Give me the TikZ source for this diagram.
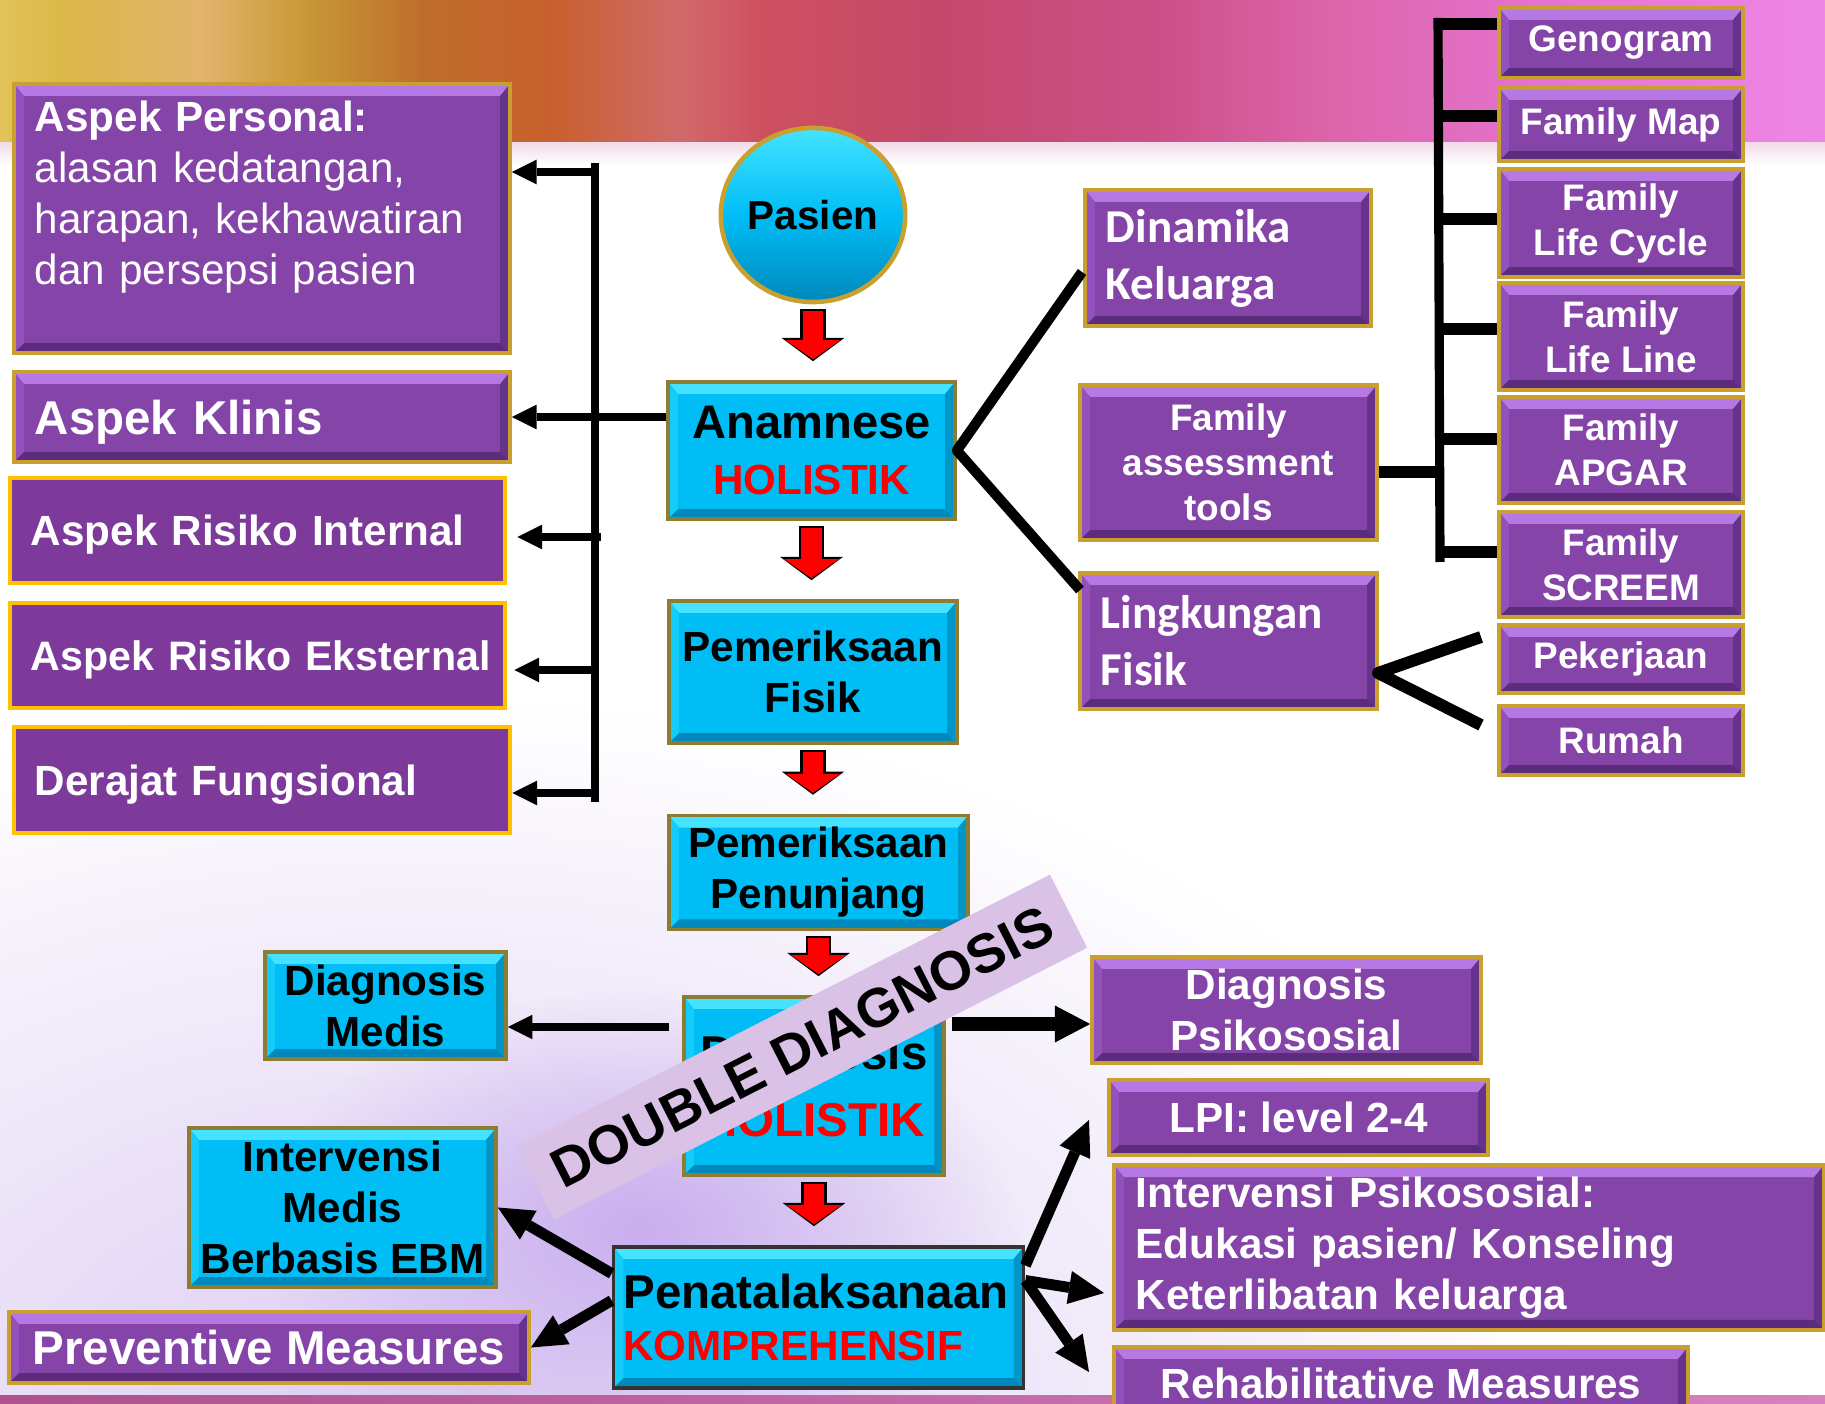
\documentclass[tikz,border=0pt]{standalone}
\usepackage{fontspec}
\setmainfont{Liberation Sans}
\newfontfamily\carlito{Carlito}
\usetikzlibrary{shapes.geometric,arrows.meta,fadings}

\definecolor{pmain}{HTML}{8444A8}
\definecolor{ptop}{HTML}{B678E2}
\definecolor{pbot}{HTML}{5B2C7C}
\definecolor{pleft}{HTML}{9351BE}
\definecolor{pright}{HTML}{66338C}
\definecolor{pgold}{HTML}{C9A030}
\definecolor{fmain}{HTML}{7D3A9A}
\definecolor{fgold}{HTML}{FFC000}
\definecolor{cmain}{HTML}{00BDF6}
\definecolor{ctop}{HTML}{45E3FF}
\definecolor{cbot}{HTML}{0088BC}
\definecolor{cleft}{HTML}{14CCFA}
\definecolor{cright}{HTML}{0096C8}
\definecolor{cgold}{HTML}{8C7C34}
\definecolor{lilac}{HTML}{D9C2E6}
\definecolor{lav}{HTML}{DDCDF3}
\definecolor{lavdeep}{HTML}{C9AEEE}
\definecolor{bgfade}{HTML}{F2DCEA}
\definecolor{bot1}{HTML}{B0508E}
\definecolor{bot2}{HTML}{D880C0}
\definecolor{bg0}{HTML}{E1C35A}
\definecolor{bg1}{HTML}{DCB848}
\definecolor{bg2}{HTML}{E2B46E}
\definecolor{bg3}{HTML}{C99A38}
\definecolor{bg4}{HTML}{BE6E2C}
\definecolor{bg5}{HTML}{C8602E}
\definecolor{bg6}{HTML}{D06A6A}
\definecolor{bg7}{HTML}{CE5060}
\definecolor{bg8}{HTML}{C4486A}
\definecolor{bg9}{HTML}{CC5088}
\definecolor{bg10}{HTML}{DC64AA}
\definecolor{bg11}{HTML}{E675D2}
\definecolor{bg12}{HTML}{EE86E6}

\tikzfading[name=glow, inner color=transparent!0, outer color=transparent!100]

\tikzset{
  bevel/.style n args={4}{path picture={
    \fill[#1] (path picture bounding box.north west) -- (path picture bounding box.north east)
      -- ([xshift=-1mm,yshift=-1.2mm]path picture bounding box.north east)
      -- ([xshift=1mm,yshift=-1.2mm]path picture bounding box.north west) -- cycle;
    \fill[#2] (path picture bounding box.south west) -- (path picture bounding box.south east)
      -- ([xshift=-1mm,yshift=1mm]path picture bounding box.south east)
      -- ([xshift=1mm,yshift=1mm]path picture bounding box.south west) -- cycle;
    \fill[#3] (path picture bounding box.north west)
      -- ([xshift=1mm,yshift=-1.2mm]path picture bounding box.north west)
      -- ([xshift=1mm,yshift=1mm]path picture bounding box.south west)
      -- (path picture bounding box.south west) -- cycle;
    \fill[#4] (path picture bounding box.north east)
      -- ([xshift=-1mm,yshift=-1.2mm]path picture bounding box.north east)
      -- ([xshift=-1mm,yshift=1mm]path picture bounding box.south east)
      -- (path picture bounding box.south east) -- cycle;
  }}
}

\begin{document}
\begin{tikzpicture}[
    x=0.01cm, y=-0.01cm,
    pbox/.style={draw=pgold, line width=1pt, fill=pmain, text=white, inner xsep=0.21cm,
      font=\fontsize{12}{14.5}\selectfont\bfseries, bevel={ptop}{pbot}{pleft}{pright}},
    fbox/.style={draw=fgold, line width=1.3pt, fill=fmain, text=white, inner xsep=0.21cm,
      font=\fontsize{12}{14.5}\selectfont\bfseries},
    cbox/.style={draw=cgold, line width=1pt, fill=cmain, text=black,
      font=\fontsize{12}{14.5}\selectfont\bfseries, bevel={ctop}{cbot}{cleft}{cright}},
    fam/.style={pbox, minimum width=2.44cm, align=center,
      font=\fontsize{10.5}{12.8}\selectfont\bfseries},
    bar/.style={line width=2pt},
    stub/.style={line width=3.4pt},
    fk/.style={line width=2.9pt, line join=round},
    larr/.style={line width=2.3pt, -{Triangle[length=7pt,width=7pt,line width=0pt]}},
    barr/.style={line width=3.7pt, -{Triangle[length=10pt,width=10.5pt,line width=0pt]}},
    parr/.style={line width=3.1pt, -{Triangle[length=10pt,width=9.5pt,line width=0pt]}},
    redarr/.style={draw=red, line width=5.9pt, shorten <=0.07cm, shorten >=0.21cm,
      -{Triangle[length=5.4pt,width=15.6pt,line width=0pt]},
      preaction={draw=black, line width=7.2pt, shorten <=0.05cm, shorten >=0.19cm,
        -{Triangle[length=6.6pt,width=17.8pt,line width=0pt]}}}
  ]
  \clip (0,0) rectangle (1825,1404);
  \fill[white] (0,0) rectangle (1825,1404);
  \fill[lav, path fading=glow] (420,1420) ellipse [x radius=1150, y radius=720];
  \fill[lavdeep, path fading=glow] (640,1230) ellipse [x radius=380, y radius=240];
  \foreach \xa/\xb/\ca/\cb in {0/60/bg0/bg1, 60/200/bg1/bg2, 200/300/bg2/bg3, 300/420/bg3/bg4,
      420/550/bg4/bg5, 550/680/bg5/bg6, 680/760/bg6/bg7, 760/930/bg7/bg8, 930/1160/bg8/bg9,
      1160/1330/bg9/bg10, 1330/1560/bg10/bg11, 1560/1825/bg11/bg12}
    \shade[left color=\ca, right color=\cb] (\xa,0) rectangle ({\xb+1},143);
  \shade[top color=bgfade, bottom color=white] (0,143) rectangle (1825,165);
  \shade[left color=bot1, right color=bot2] (0,1395) rectangle (1825,1404);

  \node[pbox, font=\fontsize{12}{14.5}\selectfont, minimum width=4.96cm, minimum height=2.69cm,
    text width=4.54cm, align=left] (pers) at (262,218.5)
    {\textbf{Aspek Personal:}\\alasan kedatangan,\\harapan, kekhawatiran\\dan persepsi pasien\\\mbox{}};
  \node[pbox, minimum width=4.96cm, minimum height=0.9cm, text width=4.54cm, align=left, text depth=0pt,
    font=\fontsize{13.5}{16}\selectfont\bfseries] (klin) at (262,417) {Aspek Klinis};
  \node[fbox, minimum width=4.95cm, minimum height=1.05cm, text width=4.53cm, align=left, text depth=0pt]
    (rint) at (257.5,530.5) {Aspek Risiko Internal};
  \node[fbox, minimum width=4.95cm, minimum height=1.05cm, text width=4.53cm, align=left, text depth=0pt,
    font=\fontsize{11.7}{14}\selectfont\bfseries] (reks) at (257.5,655.5) {\mbox{Aspek Risiko Eksternal}};
  \node[fbox, minimum width=4.96cm, minimum height=1.06cm, text width=4.54cm, align=left, text depth=0pt]
    (dfun) at (262,780) {Derajat Fungsional};

  \node[ellipse, draw=pgold, line width=1.3pt, top color=ctop, bottom color=cbot, middle color=cmain,
    minimum width=1.78cm, minimum height=1.74cm, inner sep=0pt,
    font=\fontsize{11.5}{14}\selectfont\bfseries] (pasien) at (813,215) {Pasien};
  \node[cbox, minimum width=2.87cm, minimum height=1.37cm, align=center,
    font=\fontsize{12}{16}\selectfont\bfseries] (anam) at (811.5,450.5)
    {{\fontsize{13.4}{16}\selectfont Anamnese}\\\textcolor{red}{HOLISTIK}};
  \node[cbox, minimum width=2.88cm, minimum height=1.42cm, align=center] (pfis) at (813,672)
    {Pemeriksaan\\Fisik};
  \node[cbox, minimum width=2.99cm, minimum height=1.01cm, align=center] (ppen) at (818.5,872.5)
    {Pemeriksaan\\Penunjang};
  \node[cbox, minimum width=2.6cm, minimum height=1.78cm, align=center,
    font=\fontsize{13.5}{19}\selectfont\bfseries] (dhol) at (814,1086)
    {Diagnosis\\\textcolor{red}{HOLISTIK}};
  \node[cbox, draw=black!80, minimum width=4.09cm, minimum height=1.41cm, text width=3.9cm,
    inner xsep=0.1cm, align=left, font=\fontsize{12}{15}\selectfont\bfseries] (pena) at (818.5,1317.5)
    {{\fontsize{13.5}{15}\selectfont Penatalaksanaan}\\\textcolor{red}{KOMPREHENSIF}};
  \node[cbox, minimum width=2.41cm, minimum height=1.07cm, align=center] (dmed) at (385.5,1005.5)
    {Diagnosis\\Medis};
  \node[cbox, minimum width=3.07cm, minimum height=1.59cm, align=center] (imed) at (342.5,1207.5)
    {Intervensi\\Medis\\Berbasis EBM};
  \node[pbox, minimum width=5.2cm, minimum height=0.71cm,
    font=\fontsize{13.5}{16}\selectfont\bfseries] (prev) at (269,1347.5) {Preventive Measures};

  \node[pbox, minimum width=2.86cm, minimum height=1.36cm, text width=2.44cm, align=left,
    font=\carlito\fontsize{13.4}{16.2}\selectfont\bfseries] (dina) at (1228,258) {Dinamika\\Keluarga};
  \node[pbox, minimum width=2.97cm, minimum height=1.55cm, align=center,
    font=\fontsize{10.5}{12.8}\selectfont\bfseries] (fat) at (1228.5,462.5) {Family\\assessment\\tools};
  \node[pbox, minimum width=2.97cm, minimum height=1.36cm, text width=2.55cm, align=left,
    font=\carlito\fontsize{13.4}{16.2}\selectfont\bfseries] (ling) at (1228.5,641) {Lingkungan\\Fisik};

  \node[fam, minimum height=0.7cm] (gen) at (1621,43) {Genogram};
  \node[fam, minimum height=0.73cm] (fmap) at (1621,124.5) {Family Map};
  \node[fam, minimum height=1.08cm] (flc) at (1621,223) {Family\\Life Cycle};
  \node[fam, minimum height=1.07cm] (fll) at (1621,336.5) {Family\\Life Line};
  \node[fam, minimum height=1.06cm] (fapg) at (1621,450) {Family\\APGAR};
  \node[fam, minimum height=1.05cm] (fscr) at (1621,564.5) {Family\\SCREEM};
  \node[fam, minimum height=0.68cm] (pek) at (1621,659) {Pekerjaan};
  \node[fam, minimum height=0.69cm] (rum) at (1621,740.5) {Rumah};

  \node[pbox, minimum width=3.89cm, minimum height=1.06cm, align=center] (dpsi) at (1286.5,1010)
    {Diagnosis\\Psikososial};
  \node[pbox, minimum width=3.79cm, minimum height=0.75cm] (lpi) at (1298.5,1117.5) {LPI: level 2-4};
  \node[pbox, minimum width=7.1cm, minimum height=1.61cm, text width=6.66cm, inner xsep=0.22cm,
    align=left] (ipsi) at (1469,1247.5)
    {Intervensi Psikososial:\\Edukasi pasien/ Konseling\\Keterlibatan keluarga};
  \node[pbox, minimum width=5.74cm, minimum height=0.73cm] (rehab) at (1401,1383.5)
    {Rehabilitative Measures};

  \draw[redarr] (pasien.south) -- (pasien.south |- anam.north);
  \draw[redarr] (anam.south) -- (anam.south |- pfis.north);
  \draw[redarr] (pfis.south) -- (pfis.south |- ppen.north);
  \draw[redarr] (ppen.south) -- (ppen.south |- dhol.north);
  \draw[redarr] (dhol.south) -- (dhol.south |- pena.north);

  \coordinate (lbt) at (595,163);
  \coordinate (lbb) at (595,802);
  \coordinate (b1) at (597,172);
  \coordinate (b3) at (601,537);
  \coordinate (b4) at (597,670);
  \coordinate (b5) at (597,793);
  \draw[bar] (lbt) -- (lbb);
  \draw[larr] (b1) -- (b1 -| pers.east);
  \draw[larr] (anam.west |- klin.east) -- (klin.east);
  \draw[larr, shorten >=0.1cm] (b3) -- (b3 -| rint.east);
  \draw[larr, shorten >=0.07cm] (b4) -- (b4 -| reks.east);
  \draw[larr] (b5) -- (b5 -| dfun.east);

  \coordinate (dk) at (1082,272);
  \coordinate (lf) at (1080,590);
  \draw[fk] (dk) -- (anam.east) -- (lf);

  \coordinate (rbt) at (1438,18);
  \coordinate (rbb) at (1440,562);
  \draw[line width=2.6pt] (rbt) -- (rbb);
  \draw[stub] (rbt |- 0,24) -- (gen.west |- 0,24);
  \draw[stub] (rbt |- 0,116) -- (fmap.west |- 0,116);
  \draw[stub] (rbt |- 0,219) -- (flc.west |- 0,219);
  \draw[stub] (rbt |- 0,329) -- (fll.west |- 0,329);
  \draw[stub] (rbt |- 0,439) -- (fapg.west |- 0,439);
  \draw[stub] (rbt |- 0,552) -- (fscr.west |- 0,552);
  \draw[stub] (fat.east |- 0,472) -- (rbt |- 0,472);

  \coordinate (lk) at (1378,673);
  \coordinate (pk) at (1481,637);
  \coordinate (rm) at (1481,725);
  \draw[stub, line join=round] (pk) -- (lk) -- (rm);

  \coordinate (dl) at (669,1027);
  \coordinate (dr) at (952,1024);
  \draw[larr] (dl) -- (dl -| dmed.east);
  \draw[barr] (dr) -- (dr -| dpsi.west);

  \coordinate (tl) at (1089,1120);
  \coordinate (ti) at (1104,1293);
  \coordinate (tr) at (1089,1372);
  \draw[parr] ([yshift=0.44cm]pena.west) -- (imed.east);
  \draw[parr] ([yshift=0.17cm]pena.west) -- (prev.east);
  \draw[parr] ([yshift=0.52cm]pena.east) -- (tl);
  \draw[parr] ([yshift=0.37cm]pena.east) -- (ti);
  \draw[parr] ([yshift=0.37cm]pena.east) -- (tr);

  \node[fill=lilac, rotate=27, minimum width=5.98cm, minimum height=0.82cm, inner sep=0pt,
    font=\fontsize{15.6}{18}\selectfont\bfseries] (dd) at (802,1047) {DOUBLE DIAGNOSIS};
\end{tikzpicture}
\end{document}
